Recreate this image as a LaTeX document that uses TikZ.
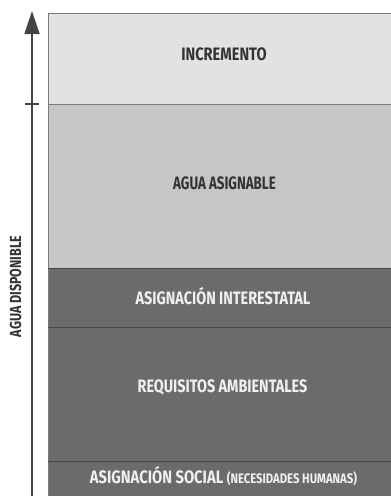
\documentclass[tikz,border=0pt]{standalone}
\usepackage{fontspec}
\setmainfont{Fira Sans}
\usetikzlibrary{arrows.meta}
\definecolor{lightA}{HTML}{E2E2E2}
\definecolor{lightB}{HTML}{C6C6C6}
\definecolor{darkC}{HTML}{6B6B6B}
\definecolor{edgeC}{HTML}{7A7A7A}
\definecolor{sepC}{HTML}{4A4A4A}
\definecolor{inkD}{HTML}{333333}
\definecolor{inkL}{HTML}{F0F0F0}
\definecolor{axisC}{HTML}{444444}
\newcommand\condtxt[2][0.8]{\scalebox{#1}[1]{#2}}
\tikzset{
  lbl/.style={font=\bfseries\fontsize{18}{18}\selectfont, inner sep=0pt, anchor=center},
  lbldark/.style={lbl, text=inkD},
  lbllight/.style={lbl, text=inkL},
}
\begin{document}
\begin{tikzpicture}[x=1pt,y=-1pt]
\useasboundingbox (0,0) rectangle (391,496);
% bands
\fill[lightA] (48,13) rectangle (391,104);
\fill[lightB] (48,104) rectangle (391,268);
\fill[darkC] (48,268) rectangle (391,496);
\draw[edgeC, line width=0.8pt] (391,13) -- (48,13) -- (48,496);
\draw[edgeC, line width=0.8pt] (48,104) -- (391,104);
\draw[sepC, line width=0.6pt] (48,268) -- (391,268);
\draw[sepC, line width=0.6pt] (48,327) -- (391,327);
\draw[sepC, line width=0.6pt] (48,461) -- (391,461);
% labels
\node[lbldark] (inc) at (224,54) {\condtxt[0.81]{INCREMENTO}};
\node[lbldark] (asig) at (224.5,183) {\condtxt[0.74]{AGUA ASIGNABLE}};
\node[lbllight] (inter) at (223,296) {\condtxt[0.8]{ASIGNACIÓN INTERESTATAL}};
\node[lbllight] (amb) at (222.5,387) {\condtxt[0.8]{REQUISITOS AMBIENTALES}};
\node[lbllight] (soc) at (223.5,476) {\condtxt[0.82]{ASIGNACIÓN SOCIAL {\fontsize{13.8}{13.8}\selectfont(NECESIDADES HUMANAS)}}};
% axis
\coordinate (axbot) at (32,496);
\coordinate (axtop) at (32,11);
\draw[axisC, line width=1.8pt, -{Triangle[length=23pt,width=15pt]}] (axbot) -- (axtop);
\coordinate (tickL) at (25,104);
\coordinate (tickR) at (39,104);
\draw[axisC, line width=1.6pt] (tickL) -- (tickR);
\node[lbldark, rotate=90, font=\bfseries\fontsize{16}{16}\selectfont] (disp) at (15.5,286.5) {\condtxt[0.78]{AGUA DISPONIBLE}};
\end{tikzpicture}
\end{document}
